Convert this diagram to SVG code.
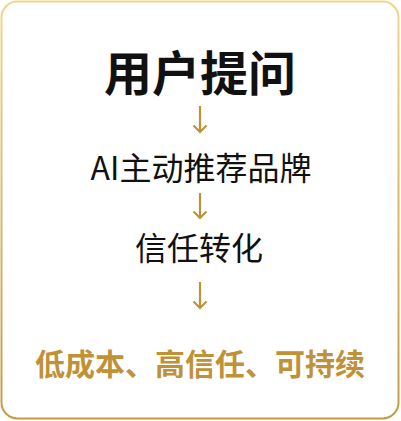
<svg xmlns="http://www.w3.org/2000/svg" width="401" height="421" viewBox="0 0 401 421">
<defs>
<linearGradient id="bd" x1="0" y1="0" x2="0" y2="1">
<stop offset="0" stop-color="#f0d68c"/>
<stop offset="1" stop-color="#c49a45"/>
</linearGradient>
<style>
.t{font-family:"Noto Sans CJK SC","Noto Sans",sans-serif;text-anchor:middle}
.a{fill:none;stroke:#bf9238;stroke-width:2.2;stroke-linecap:butt}
</style>
</defs>
<rect x="1.5" y="1.5" width="397" height="417" rx="16" fill="#fff" stroke="url(#bd)" stroke-width="2"/>
<g id="n1"><text class="t" x="200" y="91" font-size="48" font-weight="700" fill="#111">用户提问</text></g>
<g id="n2"><text class="t" x="201" y="180" font-size="32" fill="#111">AI主动推荐品牌</text></g>
<g id="n3"><text class="t" x="199" y="260" font-size="32" fill="#111">信任转化</text></g>
<g id="n4"><text class="t" x="200" y="375" font-size="30" font-weight="700" fill="#bf9238">低成本、高信任、可持续</text></g>
<g id="connectors">
<path class="a" d="M200 106V132M193.5 125.5L200 132L206.5 125.5"/>
<path class="a" d="M200 193V218M193.5 211.5L200 218L206.5 211.5"/>
<path class="a" d="M200 282V308M193.5 301.5L200 308L206.5 301.5"/>
</g>
</svg>
